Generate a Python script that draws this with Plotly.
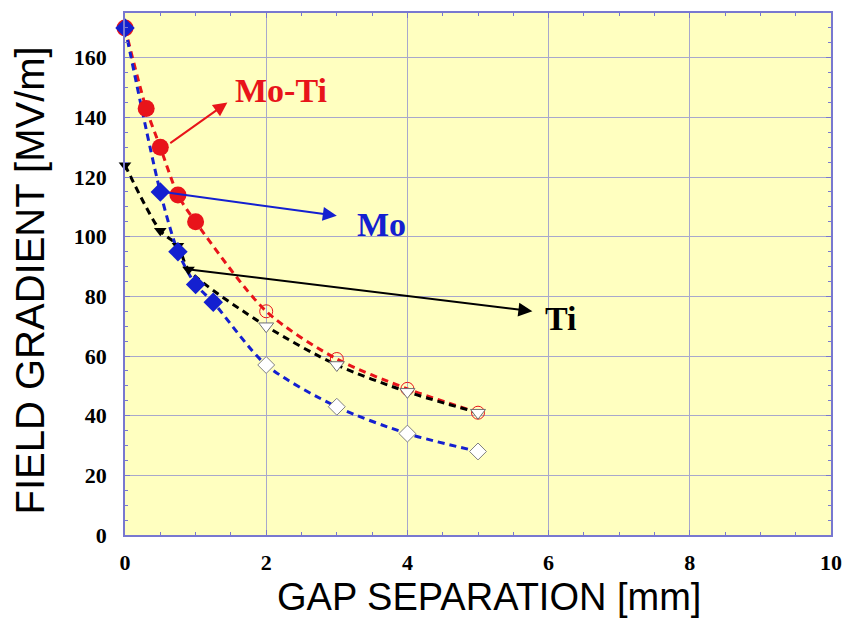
import plotly.graph_objects as go

# Gap separation [mm] and field gradient [MV/m] for each electrode pair
moti_gap_solid = [0, 0.3, 0.5, 0.75, 1.0]
moti_grad_solid = [170, 143, 130, 114, 105]
moti_gap_open = [2, 3, 4, 5]
moti_grad_open = [75, 59, 49, 41]

mo_gap_solid = [0, 0.5, 0.75, 1.0, 1.25]
mo_grad_solid = [170, 115, 95, 84, 78]
mo_gap_open = [2, 3, 4, 5]
mo_grad_open = [57, 43, 34, 28]

ti_gap_solid = [0, 0.5, 0.75, 0.9]
ti_grad_solid = [124, 102, 97, 89]
ti_gap_open = [2, 3, 4, 5]
ti_grad_open = [70, 57, 48, 41]

RED = "#e8141a"
BLUE = "#1420d0"
BLACK = "#000000"
DASH = "7px,5px"

fig = go.Figure()

def curve(xs, ys, color):
    fig.add_trace(go.Scatter(
        x=xs, y=ys, mode="lines",
        line=dict(color=color, width=3, dash=DASH, shape="spline", smoothing=0.8),
        hoverinfo="skip", showlegend=False, cliponaxis=False))

# dashed trend curves
curve(moti_gap_solid + moti_gap_open, moti_grad_solid + moti_grad_open, RED)
curve(ti_gap_solid + ti_gap_open, ti_grad_solid + ti_grad_open, BLACK)
curve(mo_gap_solid + mo_gap_open, mo_grad_solid + mo_grad_open, BLUE)

# open symbols (large gaps)
fig.add_trace(go.Scatter(x=moti_gap_open, y=moti_grad_open, mode="markers",
                         marker=dict(symbol="circle-open", size=13, color=RED, line=dict(width=1)),
                         showlegend=False, cliponaxis=False))
fig.add_trace(go.Scatter(x=ti_gap_open, y=ti_grad_open, mode="markers",
                         marker=dict(symbol="triangle-down", size=13, color="white",
                                     line=dict(color="#707070", width=1)),
                         showlegend=False, cliponaxis=False))
fig.add_trace(go.Scatter(x=mo_gap_open, y=mo_grad_open, mode="markers",
                         marker=dict(symbol="diamond", size=13, color="white",
                                     line=dict(color="#808080", width=1)),
                         showlegend=False, cliponaxis=False))

# solid symbols (small gaps)
fig.add_trace(go.Scatter(x=moti_gap_solid, y=moti_grad_solid, mode="markers",
                         marker=dict(symbol="circle", size=17, color=RED),
                         showlegend=False, cliponaxis=False))
fig.add_trace(go.Scatter(x=ti_gap_solid, y=ti_grad_solid, mode="markers",
                         marker=dict(symbol="triangle-down", size=11, color=BLACK),
                         showlegend=False, cliponaxis=False))
fig.add_trace(go.Scatter(x=mo_gap_solid, y=mo_grad_solid, mode="markers",
                         marker=dict(symbol="diamond", size=15, color=BLUE),
                         showlegend=False, cliponaxis=False))

label_font = dict(family="Liberation Serif, Times New Roman, serif", size=34)

def labelled_arrow(text, color, tail, head, pos):
    fig.add_annotation(x=head[0], y=head[1], ax=tail[0], ay=tail[1],
                       xref="x", yref="y", axref="x", ayref="y",
                       showarrow=True, arrowhead=2, arrowsize=1.4, arrowwidth=2,
                       arrowcolor=color, text="")
    fig.add_annotation(x=pos[0], y=pos[1], xref="x", yref="y", showarrow=False,
                       text=f"<b>{text}</b>", font=dict(color=color, **label_font))

labelled_arrow("Mo-Ti", RED, (0.62, 131), (1.45, 145), (2.21, 149))
labelled_arrow("Mo", BLUE, (0.55, 115), (3.0, 107), (3.63, 104))
labelled_arrow("Ti", BLACK, (0.92, 89), (5.77, 75), (6.17, 72.5))

axis_common = dict(
    showline=True, linecolor="#7878d0", linewidth=1.5, mirror="allticks",
    ticks="inside", ticklen=5, tickcolor="#7878d0", tickwidth=1,
    showgrid=True, gridcolor="#a8a8cc", gridwidth=1, zeroline=False,
    tickfont=dict(family="Liberation Serif, Times New Roman, serif", size=22,
                  color="black", weight="bold"),
)

fig.update_xaxes(range=[0, 10], tick0=0, dtick=2, tickformat="d",
                 minor=dict(dtick=0.5, ticks="inside", ticklen=3, tickcolor="#7878d0", showgrid=False),
                 ticklabelstandoff=7, **axis_common)
fig.update_yaxes(range=[0, 175], tick0=0, dtick=20,
                 minor=dict(dtick=5, ticks="inside", ticklen=3, tickcolor="#7878d0", showgrid=False),
                 ticklabelstandoff=12, **axis_common)

title_family = "Liberation Sans, Arial, sans-serif"
fig.add_annotation(text="GAP SEPARATION [mm]", xref="paper", yref="paper",
                   x=0.515, y=-0.118, yanchor="middle", showarrow=False,
                   font=dict(family=title_family, size=38, color="black"))
fig.add_annotation(text="FIELD GRADIENT [MV/m]", xref="paper", yref="paper",
                   x=-0.135, y=0.487, xanchor="center", yanchor="middle", textangle=-90,
                   showarrow=False, font=dict(family=title_family, size=40, color="black"))

fig.update_layout(
    width=853, height=621,
    margin=dict(l=125, r=15, t=11, b=86),
    plot_bgcolor="#ffffc0", paper_bgcolor="white",
)

fig.write_html("out.html")
